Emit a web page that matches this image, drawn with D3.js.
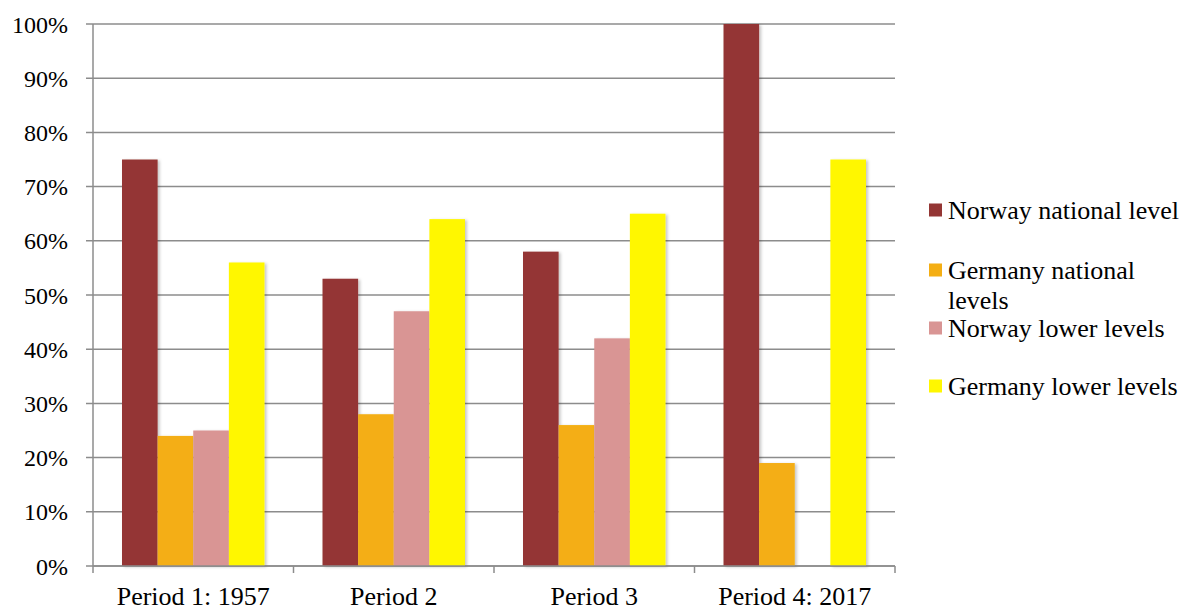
<!DOCTYPE html>
<html>
<head>
<meta charset="utf-8">
<script src="https://cdn.jsdelivr.net/npm/d3@7"></script>
<style>
  body { margin: 0; background: #fff; }
  text { font-family: "Liberation Serif", "Times New Roman", serif; fill: #000; }
</style>
</head>
<body>
<script>
const WIDTH = 1196;
const HEIGHT = 608;

var periods = ['Period 1: 1957', 'Period 2', 'Period 3', 'Period 4: 2017'];
var seriesNames = ['Norway national level', 'Germany national levels', 'Norway lower levels', 'Germany lower levels'];
var seriesColors = ['#943634', '#F4AE13', '#D99594', '#FFF700'];
var norwayNational = [75, 53, 58, 100];
var germanyNational = [24, 28, 26, 19];
var norwayLower = [25, 47, 42, 0];
var germanyLower = [56, 64, 65, 75];
var yTicks = [0, 10, 20, 30, 40, 50, 60, 70, 80, 90, 100];

var seriesValues = [norwayNational, germanyNational, norwayLower, germanyLower];

var plotLeft = 93, plotRight = 895, plotTop = 24, plotBottom = 566;

var svg = d3.select('body')
    .append('svg')
    .attr('width', WIDTH)
    .attr('height', HEIGHT);

var defs = svg.append('defs');
var filter = defs.append('filter')
    .attr('id', 'shadow')
    .attr('x', '-20%').attr('y', '-5%')
    .attr('width', '150%').attr('height', '110%');
filter.append('feDropShadow')
    .attr('dx', 2).attr('dy', 1)
    .attr('stdDeviation', 1.5)
    .attr('flood-color', '#000')
    .attr('flood-opacity', 0.22);

var x0 = d3.scaleBand()
    .domain(periods)
    .range([plotLeft, plotRight])
    .padding(0);

var x1 = d3.scaleBand()
    .domain(seriesNames)
    .range([29, x0.bandwidth() - 29])
    .padding(0);

var y = d3.scaleLinear()
    .domain([0, 100])
    .range([plotBottom, plotTop]);

// gridlines
svg.append('g')
    .selectAll('line')
    .data(yTicks)
    .enter()
    .append('line')
    .attr('x1', plotLeft - 7)
    .attr('x2', plotRight)
    .attr('y1', function(d) { return y(d); })
    .attr('y2', function(d) { return y(d); })
    .attr('stroke', '#8c8c8c')
    .attr('stroke-width', 1.5);

// y axis line
svg.append('line')
    .attr('x1', plotLeft).attr('x2', plotLeft)
    .attr('y1', plotTop).attr('y2', plotBottom)
    .attr('stroke', '#8c8c8c')
    .attr('stroke-width', 1.5);

// y labels
svg.append('g')
    .selectAll('text')
    .data(yTicks)
    .enter()
    .append('text')
    .attr('x', 68)
    .attr('y', function(d) { return y(d) + 8.5; })
    .attr('text-anchor', 'end')
    .attr('font-size', '24px')
    .text(function(d) { return d + '%'; });

// bars
var groups = svg.append('g')
    .selectAll('g')
    .data(periods)
    .enter()
    .append('g')
    .attr('transform', function(d) { return 'translate(' + x0(d) + ',0)'; });

groups.selectAll('rect')
    .data(function(d, i) {
        return seriesNames.map(function(s, j) {
            return { name: s, value: seriesValues[j][i], color: seriesColors[j] };
        });
    })
    .enter()
    .filter(function(d) { return d.value > 0; })
    .append('rect')
    .attr('x', function(d) { return x1(d.name); })
    .attr('y', function(d) { return y(d.value); })
    .attr('width', x1.bandwidth())
    .attr('height', function(d) { return plotBottom - y(d.value); })
    .attr('fill', function(d) { return d.color; })
    .attr('filter', 'url(#shadow)');

// x axis line and ticks
svg.append('line')
    .attr('x1', plotLeft).attr('x2', plotRight)
    .attr('y1', plotBottom).attr('y2', plotBottom)
    .attr('stroke', '#8c8c8c')
    .attr('stroke-width', 1.5);

var boundaries = periods.map(function(p) { return x0(p); }).concat([plotRight]);
svg.append('g')
    .selectAll('line')
    .data(boundaries)
    .enter()
    .append('line')
    .attr('x1', function(d) { return d; })
    .attr('x2', function(d) { return d; })
    .attr('y1', plotBottom)
    .attr('y2', plotBottom + 7)
    .attr('stroke', '#8c8c8c')
    .attr('stroke-width', 1.5);

// x labels
svg.append('g')
    .selectAll('text')
    .data(periods)
    .enter()
    .append('text')
    .attr('x', function(d) { return x0(d) + x0.bandwidth() / 2; })
    .attr('y', 605)
    .attr('text-anchor', 'middle')
    .attr('font-size', '26px')
    .text(function(d) { return d; });

// legend
var legendY = [210, 270, 328, 386];
var legend = svg.append('g')
    .selectAll('g')
    .data(seriesNames)
    .enter()
    .append('g')
    .attr('transform', function(d, i) { return 'translate(929,' + legendY[i] + ')'; });

legend.append('rect')
    .attr('x', 0)
    .attr('y', -6.5)
    .attr('width', 13)
    .attr('height', 13)
    .attr('fill', function(d, i) { return seriesColors[i]; });

legend.append('text')
    .attr('x', 19)
    .attr('y', 9)
    .attr('font-size', '26px')
    .each(function(d) {
        var t = d3.select(this);
        if (d === 'Germany national levels') {
            t.append('tspan').attr('x', 19).attr('dy', 0).text('Germany national');
            t.append('tspan').attr('x', 19).attr('dy', 30).text('levels');
        } else {
            t.text(d);
        }
    });
</script>
</body>
</html>
